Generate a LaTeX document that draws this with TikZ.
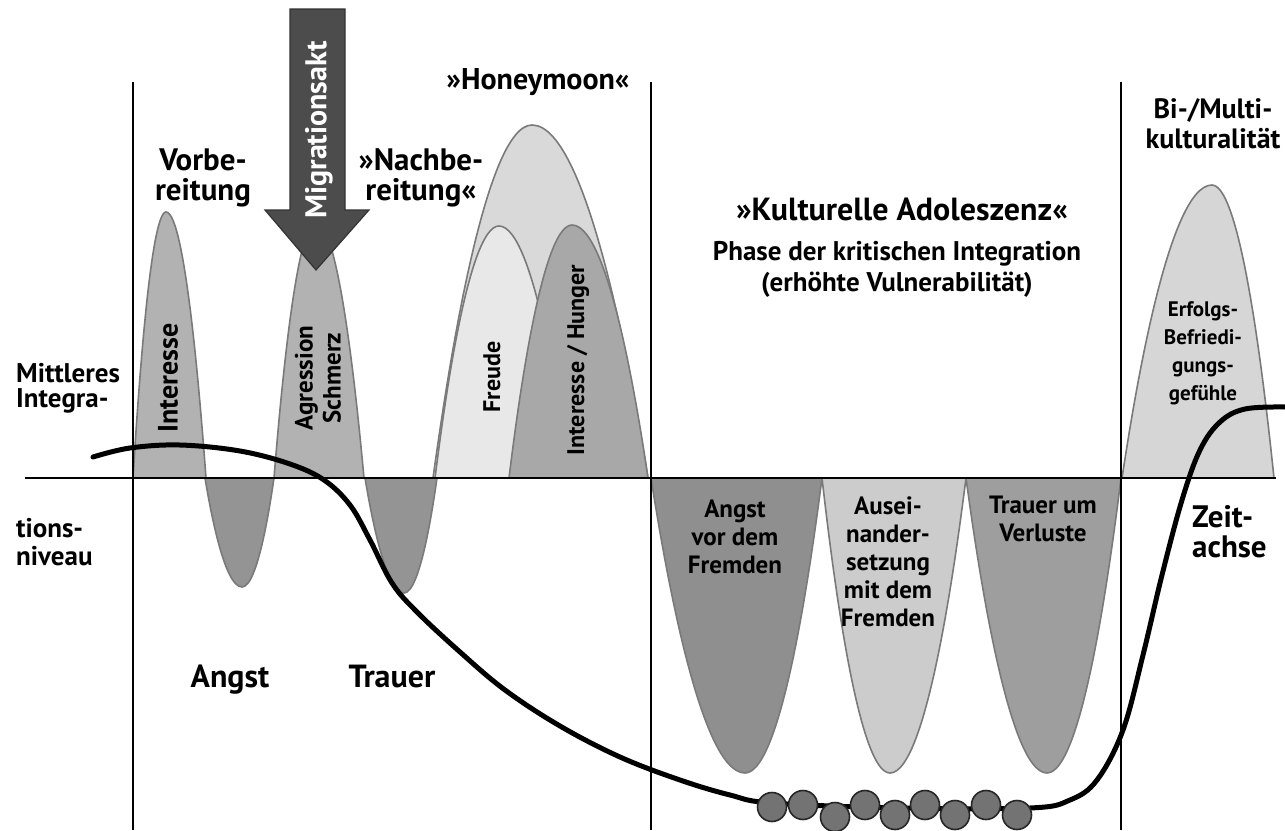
\documentclass[tikz,border=0pt]{standalone}
\usepackage{fontspec}
\setmainfont{PT Sans}
\definecolor{cmid}{gray}{0.70}
\definecolor{cdark}{gray}{0.58}
\definecolor{clight}{gray}{0.85}
\definecolor{cvlight}{gray}{0.91}
\definecolor{chunger}{gray}{0.66}
\definecolor{cedge}{gray}{0.48}
\definecolor{cfremd}{gray}{0.56}
\definecolor{causein}{gray}{0.80}
\definecolor{cverlust}{gray}{0.62}
\definecolor{cerfolg}{gray}{0.84}
\definecolor{carrow}{gray}{0.30}
\definecolor{cball}{gray}{0.45}
\tikzset{
  shapebox/.style={draw=cedge, line width=1.6pt},
  vline/.style={line width=2pt, black},
  lbl/.style={font=\bfseries\fontsize{31}{30}\selectfont, align=center, inner sep=0pt},
  rlbl/.style={font=\bfseries\fontsize{24}{28}\selectfont, align=center, inner sep=0pt, rotate=90},
  dlbl/.style={font=\bfseries\fontsize{25}{28}\selectfont, align=center, inner sep=0pt},
  ball/.style={circle, draw=black!85, line width=1.6pt, fill=cball, minimum size=29pt, inner sep=0pt},
}
\begin{document}
\begin{tikzpicture}[x=1pt, y=-1pt]
\path[fill=white] (0,0) rectangle (1285,830);
\useasboundingbox (0,0) rectangle (1285,830);
% upper peaks
\path[shapebox, fill=cmid] (133,478) parabola bend (166,212) (206,478) -- cycle;
\path[shapebox, fill=cdark] (205,478) parabola bend (242,587) (274,478) -- cycle;
\path[shapebox, fill=cmid] (274,478) parabola bend (316,222) (364,478) -- cycle;
\path[shapebox, fill=cdark] (365,478) parabola bend (404,593) (437,478) -- cycle;
\path[shapebox, fill=clight] (433,478) parabola bend (532,125) (648,478) -- cycle;
\path[shapebox, fill=cvlight] (435,478) parabola bend (499,226) (570,478) -- cycle;
\path[shapebox, fill=chunger] (509,478) parabola bend (572,225) (648,478) -- cycle;
% lower troughs
\path[shapebox, fill=cfremd] (651,478) parabola bend (745,773) (822,478) -- cycle;
\path[shapebox, fill=causein] (822,478) parabola bend (890,773) (966,478) -- cycle;
\path[shapebox, fill=cverlust] (966,478) parabola bend (1047,773) (1121,478) -- cycle;
% right peak
\path[shapebox, fill=cerfolg] (1122,478) parabola bend (1212,185) (1274,478) -- cycle;
% arrow
\path[draw=black!80, line width=1.2pt, fill=carrow] (290,9) -- (345,9) -- (345,210) -- (369,210) -- (316,270) -- (265,210) -- (290,210) -- cycle;
\node[font=\bfseries\fontsize{30}{30}\selectfont, text=white, rotate=90, inner sep=0pt] (migr) at (319,130) {Migrationsakt};
% vertical lines and axis
\draw[vline] (133,82) -- (133,830);
\draw[vline] (651,82) -- (651,830);
\draw[vline] (1121,82) -- (1121,830);
\draw[line width=2.6pt] (25,478) -- (1276,478);
% curve
\draw[line width=5pt, line cap=round] plot[smooth, tension=0.6] coordinates {
 (93,457) (130,448) (180,445) (240,451) (290,464) (324,480) (350,505) (370,540)
 (392,583) (417,612) (460,652) (505,690) (560,726) (620,757) (680,780) (730,795)
 (772,803) (900,808) (1030,808) (1070,800) (1097,780) (1123,730) (1143,655)
 (1162,575) (1182,500) (1200,450) (1220,422) (1245,409) (1285,407)};
% balls
\node[ball] (b1) at (772,807) {};
\node[ball] (b2) at (803,805) {};
\node[ball] (b3) at (835,817) {};
\node[ball] (b4) at (865,805) {};
\node[ball] (b5) at (895,815) {};
\node[ball] (b6) at (925,805) {};
\node[ball] (b7) at (955,815) {};
\node[ball] (b8) at (986,805) {};
\node[ball] (b9) at (1017,815) {};
% labels
\node[lbl, anchor=base] (vorb) at (203,200) {Vorbe-\\reitung};
\node[lbl, anchor=base] (nachb) at (421,200) {»Nachbe-\\reitung«};
\node[lbl, anchor=base, font=\bfseries\fontsize{30}{30}\selectfont] (honey) at (538,89) {»Honeymoon«};
\node[lbl, anchor=base west, align=left, font=\bfseries\fontsize{27}{25}\selectfont] (mitt) at (16,407) {Mittleres\\Integra-};
\node[lbl, anchor=base west, align=left, font=\bfseries\fontsize{27}{28}\selectfont] (tions) at (16,565) {tions-\\niveau};
\node[rlbl, font=\bfseries\fontsize{28}{28}\selectfont] (int1) at (168,378) {Interesse};
\node[rlbl, font=\bfseries\fontsize{25}{28}\selectfont] (agr) at (318,378) {Agression\\Schmerz};
\node[rlbl] (freu) at (492,377) {Freude};
\node[rlbl] (hung) at (578,360) {Interesse / Hunger};
\node[lbl, anchor=base, font=\bfseries\fontsize{32}{30}\selectfont] (angst) at (230,687) {Angst};
\node[lbl, anchor=base, font=\bfseries\fontsize{32}{30}\selectfont] (trauer) at (392,687) {Trauer};
\node[lbl, anchor=base, font=\bfseries\fontsize{32}{30}\selectfont] (kult) at (902,220) {»Kulturelle Adoleszenz«};
\node[lbl, anchor=base, font=\bfseries\fontsize{27}{31}\selectfont] (phase) at (897,291) {Phase der kritischen Integration\\(erhöhte Vulnerabilität)};
\node[lbl, anchor=base, font=\bfseries\fontsize{28}{30}\selectfont] (bimu) at (1213,148) {Bi-/Multi-\\kulturalität};
\node[dlbl, anchor=base, font=\bfseries\fontsize{21}{28}\selectfont] (erfolg) at (1203,400) {Erfolgs-\\Befriedi-\\gungs-\\gefühle};
\node[dlbl, anchor=base] (afremd) at (735,573) {Angst\\vor dem\\Fremden};
\node[dlbl, anchor=base] (ausein) at (888,626) {Ausei-\\nander-\\setzung\\mit dem\\Fremden};
\node[dlbl, anchor=base] (verl) at (1043,541) {Trauer um\\Verluste};
\node[lbl, anchor=base west, align=left, font=\bfseries\fontsize{31}{30}\selectfont] (zeit) at (1192,557) {Zeit-\\achse};
\end{tikzpicture}
\end{document}
